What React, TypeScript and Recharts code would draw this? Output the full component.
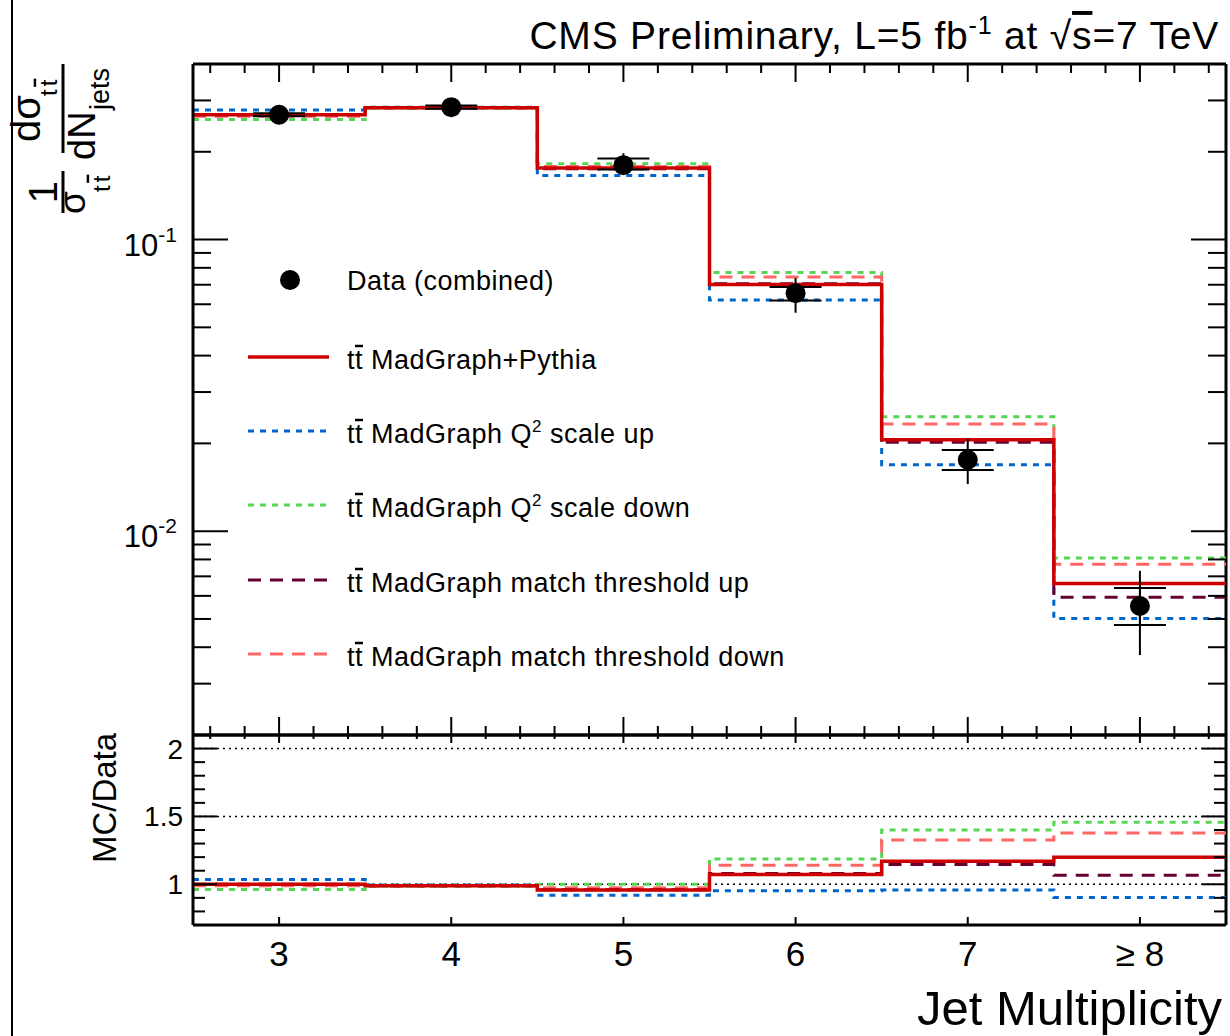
import React from 'react';
import { ComposedChart, Line, Scatter, ErrorBar, XAxis, YAxis, ReferenceLine, Legend } from 'recharts';

const FONT = '"Liberation Sans", Arial, Helvetica, sans-serif';
const W = 1230;
const H = 1036;
const PLOT_LEFT = 193;
const PLOT_RIGHT = 1226;
const TOP_Y0 = 64;
const TOP_Y1 = 735;
const RATIO_Y1 = 925;

// ---------- data ----------
const binEdges = [2.5, 3.5, 4.5, 5.5, 6.5, 7.5, 8.5];
const binCenters = [3, 4, 5, 6, 7, 8];
const xTickLabels = ['3', '4', '5', '6', '7', '\u2265 8'];

const dataValues = [0.268, 0.2845, 0.18, 0.0655, 0.01757, 0.00554];
const dataStatLow = [0.265, 0.281, 0.174, 0.0618, 0.0162, 0.00477];
const dataStatHigh = [0.271, 0.288, 0.1895, 0.0687, 0.019, 0.00639];
const dataTotLow = [0.262, 0.279, 0.1675, 0.0561, 0.0145, 0.00376];
const dataTotHigh = [0.274, 0.29, 0.1977, 0.0738, 0.0207, 0.00731];

const madgraph = [0.268, 0.283, 0.176, 0.0701, 0.0206, 0.00662];
const q2Up = [0.278, 0.284, 0.166, 0.0621, 0.0169, 0.00502];
const q2Down = [0.258, 0.282, 0.182, 0.0771, 0.0247, 0.00809];
const matchUp = [0.268, 0.283, 0.175, 0.0705, 0.0202, 0.00593];
const matchDown = [0.265, 0.283, 0.178, 0.0744, 0.0233, 0.0077];

const ratioMadgraph = [1.0, 0.99, 0.957, 1.072, 1.17, 1.2];
const ratioQ2Up = [1.035, 0.995, 0.92, 0.953, 0.957, 0.902];
const ratioQ2Down = [0.962, 0.985, 1.0, 1.187, 1.4, 1.458];
const ratioMatchUp = [1.0, 0.99, 0.96, 1.08, 1.145, 1.066];
const ratioMatchDown = [0.99, 0.99, 0.975, 1.14, 1.326, 1.377];

const topYTicks = [0.003, 0.004, 0.005, 0.006, 0.007, 0.008, 0.009, 0.01, 0.02, 0.03, 0.04, 0.05, 0.06, 0.07, 0.08, 0.09, 0.1, 0.2, 0.3];
const topYMajor = [0.01, 0.1];
const ratioYTicks = [0.8, 0.9, 1.0, 1.1, 1.2, 1.3, 1.4, 1.5, 1.6, 1.7, 1.8, 1.9, 2.0];
const ratioYMajor = [1, 1.5, 2];
const ratioYLabels = ['1', '1.5', '2'];
const ratioGridLines = [1, 1.5, 2];

const xAllTicks: number[] = [];
for (let k = 0; k < 30; k++) xAllTicks.push(Math.round((2.6 + 0.2 * k) * 10) / 10);

const SERIES = [
  { key: 'q2Up', name: 'MadGraph Q^2 scale up', color: '#0066cc', dash: '6 6', width: 3, top: q2Up, ratio: ratioQ2Up },
  { key: 'q2Down', name: 'MadGraph Q^2 scale down', color: '#55d655', dash: '6 6', width: 3, top: q2Down, ratio: ratioQ2Down },
  { key: 'matchDown', name: 'MadGraph match threshold down', color: '#ff6666', dash: '13 9', width: 3, top: matchDown, ratio: ratioMatchDown },
  { key: 'matchUp', name: 'MadGraph match threshold up', color: '#660033', dash: '13 9', width: 3, top: matchUp, ratio: ratioMatchUp },
  { key: 'madgraph', name: 'MadGraph+Pythia', color: '#cc0000', dash: undefined as string | undefined, width: 3.5, top: madgraph, ratio: ratioMadgraph },
];
const LEGEND_ORDER = ['madgraph', 'q2Up', 'q2Down', 'matchUp', 'matchDown'];

function stepRows(field: 'top' | 'ratio') {
  return binEdges.map((edge, i) => {
    const row: Record<string, number> = { x: edge };
    SERIES.forEach((s) => {
      const arr = s[field];
      row[s.key] = arr[Math.min(i, arr.length - 1)];
    });
    return row;
  });
}
const topRows = stepRows('top');
const ratioRows = stepRows('ratio');

const pointRows = binCenters.map((c, i) => ({
  x: c,
  y: dataValues[i],
  stat: [dataValues[i] - dataStatLow[i], dataStatHigh[i] - dataValues[i]],
  tot: [dataValues[i] - dataTotLow[i], dataTotHigh[i] - dataValues[i]],
}));

const near = (a: number, list: number[]) => list.some((m) => Math.abs(m - a) < 1e-9);

// ---------- ticks ----------
function TopXTick(p: any) {
  const x = p.x;
  const v = p.payload.value;
  const major = Math.abs(v - Math.round(v)) < 1e-6;
  const len = major ? 18 : 9;
  return (
    <g>
      <line x1={x} x2={x} y1={TOP_Y1} y2={TOP_Y1 - len} stroke="#000" strokeWidth={2} />
      <line x1={x} x2={x} y1={TOP_Y0} y2={TOP_Y0 + len} stroke="#000" strokeWidth={2} />
    </g>
  );
}

function TopYTick(p: any) {
  const y = p.y;
  const v = p.payload.value;
  const major = near(v, topYMajor);
  const len = major ? 35 : 18;
  const exp = Math.round(Math.log10(v));
  return (
    <g>
      <line x1={PLOT_LEFT} x2={PLOT_LEFT + len} y1={y} y2={y} stroke="#000" strokeWidth={2} />
      <line x1={PLOT_RIGHT} x2={PLOT_RIGHT - len} y1={y} y2={y} stroke="#000" strokeWidth={2} />
      {major && (
        <text x={PLOT_LEFT - 16} y={y + 16} textAnchor="end" fontSize={31} fontFamily={FONT} fill="#000">
          10<tspan dy={-14} fontSize={21}>{`-${Math.abs(exp)}`}</tspan>
        </text>
      )}
    </g>
  );
}

function RatioXTick(p: any) {
  const x = p.x;
  const v = p.payload.value;
  const major = Math.abs(v - Math.round(v)) < 1e-6;
  const idx = binCenters.indexOf(Math.round(v));
  return (
    <g>
      <line x1={x} x2={x} y1={TOP_Y1} y2={TOP_Y1 + (major ? 8 : 4)} stroke="#000" strokeWidth={2} />
      {major && <line x1={x} x2={x} y1={RATIO_Y1} y2={RATIO_Y1 - 8} stroke="#000" strokeWidth={2} />}
      {major && idx >= 0 && (
        <text x={x} y={RATIO_Y1 + 41} textAnchor="middle" fontSize={35} fontFamily={FONT} fill="#000">
          {xTickLabels[idx]}
        </text>
      )}
    </g>
  );
}

function RatioYTick(p: any) {
  const y = p.y;
  const v = p.payload.value;
  const major = near(v, ratioYMajor);
  const len = major ? 24 : 12;
  const li = ratioYMajor.findIndex((m) => Math.abs(m - v) < 1e-9);
  return (
    <g>
      <line x1={PLOT_LEFT} x2={PLOT_LEFT + len} y1={y} y2={y} stroke="#000" strokeWidth={2} />
      <line x1={PLOT_RIGHT} x2={PLOT_RIGHT - len} y1={y} y2={y} stroke="#000" strokeWidth={2} />
      {li >= 0 && (
        <text x={PLOT_LEFT - 10} y={y + 10} textAnchor="end" fontSize={28} fontFamily={FONT} fill="#000">
          {ratioYLabels[li]}
        </text>
      )}
    </g>
  );
}

function DataDot(p: any) {
  if (p.cx == null || p.cy == null) return <g />;
  return <circle cx={p.cx} cy={p.cy} r={10} fill="#000" />;
}

// ---------- legend ----------
const LEG_LEFT = 240;
const LEG_TOP = 250;
const LEG_FS = 27;
const LEG_LS = 0.5;

function LegendLabel({ x, y, name }: { x: number; y: number; name: string }) {
  const tw = 0.278 * LEG_FS + LEG_LS;
  const parts = name.split('^2');
  return (
    <g>
      <text x={x} y={y} fontSize={LEG_FS} letterSpacing={LEG_LS} fontFamily={FONT} fill="#000">
        tt {parts[0]}
        {parts.length > 1 && (
          <>
            <tspan dy={-11} fontSize={17}>2</tspan>
            <tspan dy={11}>{parts[1]}</tspan>
          </>
        )}
      </text>
      <line x1={x + tw} x2={x + 2 * tw} y1={y - 23} y2={y - 23} stroke="#000" strokeWidth={2.5} />
    </g>
  );
}

function LegendBox() {
  const rows = [30, 107, 181, 255, 330, 404];
  const textX = 347 - LEG_LEFT;
  return (
    <svg width={620} height={440} style={{ overflow: 'visible' }}>
      <circle cx={290 - LEG_LEFT} cy={rows[0]} r={10} fill="#000" />
      <text x={textX} y={rows[0] + 10} fontSize={LEG_FS} letterSpacing={LEG_LS} fontFamily={FONT} fill="#000">Data (combined)</text>
      {LEGEND_ORDER.map((k, i) => {
        const s = SERIES.find((q) => q.key === k)!;
        const y = rows[i + 1];
        return (
          <g key={k}>
            <line x1={248 - LEG_LEFT} x2={(s.dash === '6 6' ? 326 : 329) - LEG_LEFT} y1={y} y2={y} stroke={s.color} strokeWidth={s.width} strokeDasharray={s.dash} />
            <LegendLabel x={textX} y={y + 12} name={s.name} />
          </g>
        );
      })}
    </svg>
  );
}

// ---------- overlay texts ----------
function TTbar({ x, y, fs }: { x: number; y: number; fs: number }) {
  const tw = 0.278 * fs;
  return (
    <g>
      <text x={x} y={y} fontSize={fs} fontFamily={FONT} fill="#000">t</text>
      <text x={x + tw + 3} y={y} fontSize={fs} fontFamily={FONT} fill="#000">t</text>
      <line x1={x + tw + 2.5} x2={x + 2 * tw + 4} y1={y - fs * 0.92} y2={y - fs * 0.92} stroke="#000" strokeWidth={2.5} />
    </g>
  );
}

function Overlay() {
  return (
    <svg width={W} height={H} style={{ position: 'absolute', left: 0, top: 0, pointerEvents: 'none' }}>
      <line x1={12} x2={12} y1={0} y2={H} stroke="#000" strokeWidth={2} />
      <text x={1219} y={49} textAnchor="end" fontSize={39} letterSpacing={0.8} fontFamily={FONT} fill="#000">
        CMS Preliminary, L=5 fb<tspan dy={-15} fontSize={25}>-1</tspan>
        <tspan dy={15}> at </tspan>
        <tspan>{'\u221A'}</tspan>
        <tspan textDecoration="overline">s</tspan>
        <tspan>=7 TeV</tspan>
      </text>
      {/* y label of upper panel */}
      <g transform="translate(63,215) rotate(-90)">
        <line x1={2} x2={44} y1={0} y2={0} stroke="#000" strokeWidth={3} />
        <text x={23} y={-6} textAnchor="middle" fontSize={40} fontFamily={FONT} fill="#000">1</text>
        <text x={1} y={22} fontSize={37} fontFamily={FONT} fill="#000">{'\u03C3'}</text>
        <TTbar x={23} y={47} fs={24} />
        <line x1={62} x2={151} y1={0} y2={0} stroke="#000" strokeWidth={3} />
        <text x={73} y={-23} fontSize={40} fontFamily={FONT} fill="#000">d{'\u03C3'}</text>
        <TTbar x={119} y={-6} fs={24} />
        <text x={55} y={32} fontSize={38} fontFamily={FONT} fill="#000">dN</text>
        <text x={105} y={46} fontSize={27} fontFamily={FONT} fill="#000">jets</text>
      </g>
      <g transform="translate(116,798) rotate(-90)">
        <text x={0} y={0} textAnchor="middle" fontSize={33} fontFamily={FONT} fill="#000">MC/Data</text>
      </g>
      <text x={1222} y={1025} textAnchor="end" fontSize={49} fontFamily={FONT} fill="#000">Jet Multiplicity</text>
    </svg>
  );
}

export default function App() {
  return (
    <div style={{ position: 'absolute', left: 0, top: 0, width: W, height: H, background: '#fff', fontFamily: FONT }}>
      <div style={{ position: 'absolute', left: 0, top: 0 }}>
        <ComposedChart
          width={W}
          height={H}
          data={topRows}
          margin={{ top: TOP_Y0, right: W - PLOT_RIGHT, bottom: H - TOP_Y1 - 1, left: PLOT_LEFT - 1 }}
        >
          <XAxis
            dataKey="x"
            type="number"
            domain={[2.5, 8.5]}
            allowDataOverflow
            ticks={xAllTicks}
            interval={0}
            height={1}
            tickSize={0}
            tickMargin={0}
            tickLine={false}
            axisLine={{ stroke: '#000', strokeWidth: 3 }}
            tick={TopXTick}
          />
          <YAxis
            type="number"
            scale="log"
            domain={[0.002, 0.4]}
            allowDataOverflow
            ticks={topYTicks}
            interval={0}
            width={1}
            tickSize={0}
            tickMargin={0}
            tickLine={false}
            axisLine={{ stroke: '#000', strokeWidth: 3 }}
            tick={TopYTick}
          />
          <ReferenceLine y={0.4} stroke="#000" strokeWidth={3} />
          <ReferenceLine x={8.5} stroke="#000" strokeWidth={3} />
          {SERIES.map((s) => (
            <Line
              key={s.key}
              dataKey={s.key}
              name={s.name}
              type="stepAfter"
              stroke={s.color}
              strokeWidth={s.width}
              strokeDasharray={s.dash}
              dot={false}
              activeDot={false}
              isAnimationActive={false}
            />
          ))}
          <Scatter data={pointRows} dataKey="y" name="Data (combined)" fill="#000" shape={DataDot} isAnimationActive={false}>
            <ErrorBar dataKey="tot" width={0} stroke="#000" strokeWidth={2} direction="y" />
            <ErrorBar dataKey="stat" width={26} stroke="#000" strokeWidth={2} direction="y" />
          </Scatter>
          <Legend
            layout="vertical"
            align="center"
            verticalAlign="middle"
            wrapperStyle={{ position: 'absolute', left: LEG_LEFT, top: LEG_TOP, width: 620, height: 440 }}
            content={() => <LegendBox />}
          />
        </ComposedChart>
      </div>
      <div style={{ position: 'absolute', left: 0, top: 0 }}>
        <ComposedChart
          width={W}
          height={H}
          data={ratioRows}
          margin={{ top: TOP_Y1, right: W - PLOT_RIGHT, bottom: H - RATIO_Y1 - 1, left: PLOT_LEFT - 1 }}
        >
          <XAxis
            dataKey="x"
            type="number"
            domain={[2.5, 8.5]}
            allowDataOverflow
            ticks={xAllTicks}
            interval={0}
            height={1}
            tickSize={0}
            tickMargin={0}
            tickLine={false}
            axisLine={{ stroke: '#000', strokeWidth: 3 }}
            tick={RatioXTick}
          />
          <YAxis
            type="number"
            domain={[0.7, 2.1]}
            allowDataOverflow
            ticks={ratioYTicks}
            interval={0}
            width={1}
            tickSize={0}
            tickMargin={0}
            tickLine={false}
            axisLine={{ stroke: '#000', strokeWidth: 3 }}
            tick={RatioYTick}
          />
          <ReferenceLine y={2.1} stroke="#000" strokeWidth={3} />
          <ReferenceLine x={8.5} stroke="#000" strokeWidth={3} />
          {ratioGridLines.map((g) => (
            <ReferenceLine key={g} y={g} stroke="#000" strokeWidth={1.5} strokeDasharray="2 4" />
          ))}
          {SERIES.map((s) => (
            <Line
              key={s.key}
              dataKey={s.key}
              name={s.name}
              type="stepAfter"
              stroke={s.color}
              strokeWidth={s.width}
              strokeDasharray={s.dash}
              dot={false}
              activeDot={false}
              isAnimationActive={false}
            />
          ))}
        </ComposedChart>
      </div>
      <Overlay />
    </div>
  );
}
